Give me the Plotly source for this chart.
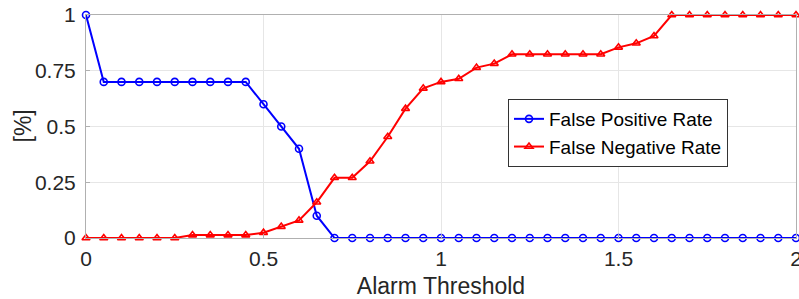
import plotly.graph_objects as go

thresholds = [round(i * 0.05, 2) for i in range(41)]
fpr = [1.0, 0.7, 0.7, 0.7, 0.7, 0.7, 0.7, 0.7, 0.7, 0.7, 0.6, 0.5, 0.4, 0.1,
       0, 0, 0, 0, 0, 0, 0, 0, 0, 0, 0, 0, 0, 0, 0, 0, 0, 0, 0, 0, 0, 0, 0, 0, 0, 0, 0]
fnr = [0, 0, 0, 0, 0, 0, 0.013, 0.013, 0.013, 0.013, 0.024, 0.051, 0.079, 0.16,
       0.27, 0.27, 0.344, 0.454, 0.58, 0.671, 0.70, 0.714, 0.764, 0.782, 0.824,
       0.824, 0.824, 0.824, 0.824, 0.824, 0.855, 0.873, 0.906, 1.0, 1.0, 1.0,
       1.0, 1.0, 1.0, 1.0, 1.0]
x_ticks = [0, 0.5, 1, 1.5, 2]
x_ticklabels = ["0", "0.5", "1", "1.5", "2"]
y_ticks = [0, 0.25, 0.5, 0.75, 1]
y_ticklabels = ["0", "0.25", "0.5", "0.75", "1"]

FONT = "Liberation Sans, Arial, sans-serif"

fig = go.Figure()
fig.add_trace(go.Scatter(
    x=thresholds, y=fpr, mode="lines+markers", name="False Positive Rate",
    line=dict(color="#0000ff", width=2),
    marker=dict(symbol="circle-open", size=7, color="#0000ff", line=dict(width=1.6)),
    cliponaxis=False,
))
fig.add_trace(go.Scatter(
    x=thresholds, y=fnr, mode="lines+markers", name="False Negative Rate",
    line=dict(color="#ff0000", width=2),
    marker=dict(symbol="triangle-up-open", size=7, color="#ff0000", line=dict(width=1.6)),
    cliponaxis=False,
))

axis_common = dict(
    showgrid=True, gridcolor="#e6e6e6", gridwidth=1,
    showline=True, linecolor="#b0b0b0", linewidth=1, mirror=True,
    ticks="inside", ticklen=4, tickcolor="#b0b0b0",
    zeroline=False, automargin=False, ticklabeloverflow="allow",
    tickfont=dict(family=FONT, size=21, color="#262626"),
)

fig.update_layout(
    width=799, height=299,
    margin=dict(l=86, r=3, t=15, b=61),
    paper_bgcolor="white", plot_bgcolor="white",
    xaxis=dict(range=[0, 2], tickvals=x_ticks, ticktext=x_ticklabels,
               ticklabelstandoff=2,
               title=dict(text="Alarm Threshold", standoff=8,
                          font=dict(family=FONT, size=23, color="#262626")),
               **axis_common),
    yaxis=dict(range=[0, 1], tickvals=y_ticks, ticktext=y_ticklabels,
               ticklabelstandoff=5,
               **axis_common),
    annotations=[dict(text="[%]", textangle=-90, xref="paper", yref="paper",
                      x=(22 - 86) / 710, y=0.5, xanchor="center", yanchor="middle",
                      showarrow=False,
                      font=dict(family=FONT, size=23, color="#262626"))],
    legend=dict(x=(508 - 86) / 710, y=(238 - 99) / 223, xanchor="left", yanchor="top",
                bgcolor="white", bordercolor="#333333", borderwidth=1,
                font=dict(family=FONT, size=19, color="#000000"),
                tracegroupgap=0, itemwidth=30),
    showlegend=True,
)

fig.write_html("out.html", config={"displayModeBar": False},
               post_script="document.body.style.margin='0';")
